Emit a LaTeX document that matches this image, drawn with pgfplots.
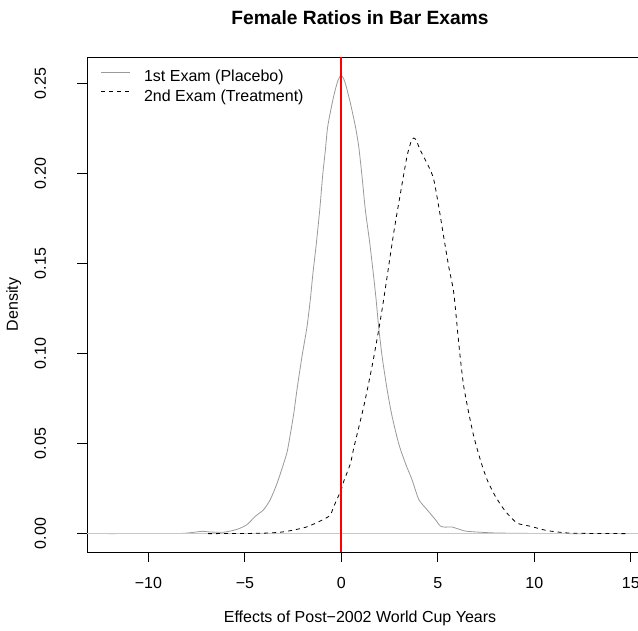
\documentclass[border=0pt]{standalone}
\usepackage{fontspec}
\setmainfont{Liberation Sans}
\usepackage{xcolor}
\usepackage{pgfplots}
\usepackage{pgfplotstable}
\pgfplotsset{compat=1.18}
\definecolor{placebo}{RGB}{153,153,153}
\definecolor{zeroline}{RGB}{200,200,200}
\definecolor{refred}{RGB}{255,0,0}

% density of the 1st exam (placebo)
\pgfplotstableread{
x y
-12.1 0.0000
-10.0 0.0001
-8.3 0.0001
-7.6 0.0008
-7.2 0.0013
-6.8 0.0009
-6.1 0.0008
-5.6 0.0018
-5.23 0.0031
-4.89 0.0050
-4.46 0.0096
-4.03 0.0133
-3.68 0.0190
-3.33 0.0280
-2.99 0.0390
-2.80 0.0460
-2.60 0.0580
-2.45 0.0680
-2.30 0.0800
-2.04 0.0985
-1.78 0.1150
-1.61 0.1300
-1.47 0.1450
-1.30 0.1610
-1.12 0.1800
-0.97 0.1990
-0.83 0.2130
-0.71 0.2260
-0.48 0.2390
-0.33 0.2460
-0.17 0.2520
-0.03 0.2546
0.08 0.2535
0.21 0.2500
0.47 0.2390
0.73 0.2260
0.90 0.2150
1.07 0.1985
1.24 0.1800
1.47 0.1615
1.67 0.1430
1.80 0.1300
1.93 0.1150
2.11 0.0985
2.37 0.0800
2.63 0.0650
2.97 0.0500
3.32 0.0390
3.66 0.0300
4.01 0.0190
4.44 0.0133
4.87 0.0078
5.13 0.0042
5.40 0.0036
5.73 0.0037
6.17 0.0022
6.51 0.0013
7.9 0.0004
10.0 0.0001
12.5 0.0000
}\placebodata

% density of the 2nd exam (treatment)
\pgfplotstableread{
x y
-6.9 0.0000
-4.2 0.0002
-3.0 0.0010
-1.78 0.0038
-0.65 0.0096
-0.40 0.0150
0.00 0.0246
0.12 0.0290
0.47 0.0390
0.64 0.0475
1.16 0.0707
1.59 0.0930
1.93 0.1130
2.19 0.1300
2.71 0.1670
3.06 0.1890
3.40 0.2096
3.62 0.2180
3.75 0.2198
3.88 0.2185
4.09 0.2130
4.52 0.2040
4.78 0.1970
5.04 0.1820
5.30 0.1650
5.56 0.1485
5.82 0.1340
6.03 0.1115
6.17 0.0967
6.34 0.0818
6.60 0.0670
6.86 0.0540
7.20 0.0410
7.55 0.0300
7.98 0.0207
8.50 0.0124
9.10 0.0059
9.79 0.0041
10.66 0.0017
11.7 0.0004
13.0 0.0001
14.9 0.0000
}\treatdata

\begin{document}
\begin{tikzpicture}
\useasboundingbox (0,0) rectangle (638bp,631bp);
\clip (0,0) rectangle (638bp,631bp);
\begin{axis}[
  at={(87bp,79bp)}, anchor=south west,
  x=19.3bp, y=1800bp,
  xmin=-13.18, xmax=16.0, ymin=-0.0102, ymax=0.2648,
  axis line style={black, line width=0.9bp},
  tick align=outside, xtick pos=lower, ytick pos=left,
  major tick length=9.6bp,
  tick style={black, line width=0.9bp},
  xtick={-10,-5,0,5,10,15},
  xticklabels={−10,−5,0,5,10,15},
  ytick={0,0.05,0.10,0.15,0.20,0.25},
  yticklabels={0.00,0.05,0.10,0.15,0.20,0.25},
  tick label style={font=\fontsize{16bp}{19bp}\selectfont},
  xticklabel style={anchor=base, yshift=-27.4bp},
  yticklabel style={xshift=-31.6bp, rotate=90, anchor=base},
  legend cell align=left,
  legend image code/.code={\draw[#1] (0bp,5.75bp) -- (29.3bp,5.75bp);},
  legend style={at={(rel axis cs:0,1)}, anchor=north west,
    xshift=13.7bp, yshift=-13bp, draw=none, fill=none,
    inner sep=0pt, outer sep=0pt,
    font=\fontsize{16bp}{19bp}\selectfont,
    nodes={inner sep=0pt, text height=12bp, text depth=3.5bp},
    /tikz/column sep=13.3bp, /tikz/row sep=3.7bp},
]
\addplot[color=placebo, line width=0.8bp, smooth, tension=0.4] table {\placebodata};
\addlegendentry{1st Exam (Placebo)}
\addplot[color=zeroline, line width=0.4bp, forget plot] coordinates {(-14,0) (17,0)};
\addplot[color=black, line width=0.8bp, smooth, tension=0.4, dash pattern=on 4bp off 4bp] table {\treatdata};
\addlegendentry{2nd Exam (Treatment)}
\addplot[color=refred, line width=2.2bp, forget plot] coordinates {(0,-0.0102) (0,0.2648)};
\end{axis}
\node[anchor=base, font=\fontsize{19.2bp}{23bp}\selectfont\bfseries] at (360bp,606bp) {Female Ratios in Bar Exams};
\node[anchor=base, font=\fontsize{16bp}{19bp}\selectfont] at (360bp,8.3bp) {Effects of Post−2002 World Cup Years};
\node[rotate=90, anchor=base, font=\fontsize{16bp}{19bp}\selectfont] at (17.75bp,326.5bp) {Density};
\end{tikzpicture}
\end{document}
